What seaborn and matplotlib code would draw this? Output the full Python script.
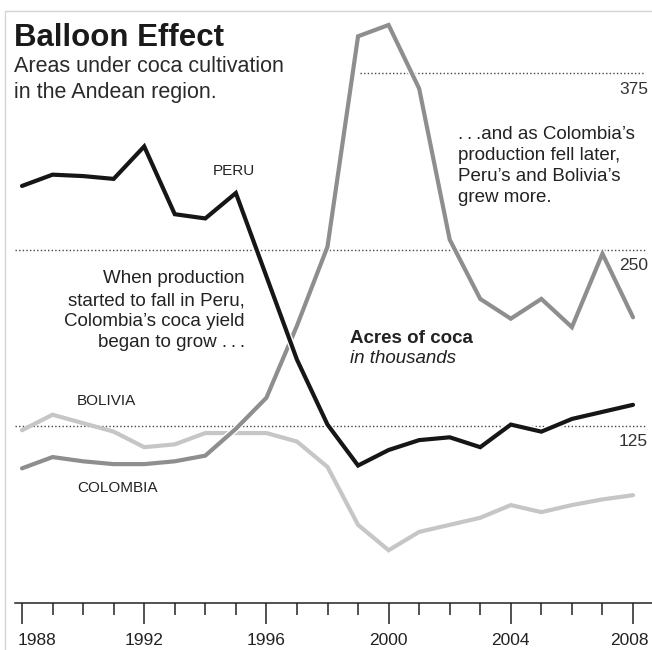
import numpy as np
import pandas as pd
import matplotlib
matplotlib.use("Agg")
import matplotlib.pyplot as plt
import matplotlib.patheffects as pe
import matplotlib.transforms as mtrans
from matplotlib.lines import Line2D
import seaborn as sns

# ---------------- data ----------------
years = list(range(1988, 2009))
peru = [295, 303, 302, 300, 323, 275, 272, 290, 231, 172, 126, 97, 108, 115, 117, 110, 126, 121, 130, 135, 140]
colombia = [95, 103, 100, 98, 98, 100, 104, 123, 145, 196, 252, 401, 409, 364, 257, 215, 201, 215, 195, 247, 202]
bolivia = [122, 133, 127, 121, 110, 112, 120, 120, 120, 114, 96, 55, 37, 50, 55, 60, 69, 64, 69, 73, 76]
countries = ["BOLIVIA", "COLOMBIA", "PERU"]
grid_values = [125, 250, 375]
major_ticks = [1988, 1992, 1996, 2000, 2004, 2008]

df = pd.DataFrame({
    "year": years * 3,
    "acres": bolivia + colombia + peru,
    "country": ["BOLIVIA"] * len(years) + ["COLOMBIA"] * len(years) + ["PERU"] * len(years),
})

# ---------------- style ----------------
sns.set_theme(style="white")
plt.rcParams["font.family"] = ["Liberation Sans", "DejaVu Sans"]

W, H = 652, 650
fig = plt.figure(figsize=(W / 100, H / 100), dpi=100)
ax = fig.add_axes([0, 0, 1, 1])

# pixel <-> data mapping (x: 1988 at 22px, 30.55 px/yr; y: 0 at 602.5px, 1.412 px/unit)
X0, XS = 22.0, 30.55
Y0, YS = 602.5, 1.412
ax.set_xlim(1988 - X0 / XS, 1988 + (W - X0) / XS)
ax.set_ylim(-(H - Y0) / YS, Y0 / YS)

def xd(px):
    return 1988 + (px - X0) / XS

def fx(px):
    return px / W

def fy(py):
    return 1 - py / H

palette = {"PERU": "#161616", "COLOMBIA": "#8e8e8e", "BOLIVIA": "#c6c6c6"}
sns.lineplot(data=df, x="year", y="acres", hue="country", hue_order=countries,
             palette=palette, linewidth=3.0, legend=False, ax=ax)

zorders = {"BOLIVIA": 3, "COLOMBIA": 4, "PERU": 5}
for line, name in zip(ax.get_lines(), countries):
    line.set_zorder(zorders[name])
    line.set_solid_joinstyle("miter")
    if name != "BOLIVIA":
        line.set_path_effects([pe.Stroke(linewidth=5.0, foreground="white"), pe.Normal()])

# dotted gridlines
grid_start = [xd(15), xd(15), xd(360)]
for v, xs in zip(grid_values, grid_start):
    ax.hlines(v, xs, xd(645), colors="#444444", linewidth=1.0,
              linestyles=(0, (1, 1.6)), zorder=1)
    py = Y0 - v * YS
    fig.text(fx(648), fy(py + 20.5), str(v), ha="right", va="baseline",
             fontsize=12.5, color="#333333")

# axis
ax.set_xlabel("")
ax.set_ylabel("")
for s in ["top", "right", "left"]:
    ax.spines[s].set_visible(False)
ax.spines["bottom"].set_position(("data", 0))
ax.spines["bottom"].set_bounds(xd(15), xd(W))
ax.spines["bottom"].set_linewidth(1.1)
ax.spines["bottom"].set_color("#222222")
ax.set_yticks([])
ax.set_xticks(major_ticks)
ax.set_xticks(years, minor=True)
ax.set_xticklabels([str(t) for t in major_ticks])
ax.tick_params(axis="x", which="major", direction="out", length=15, width=1.1,
               color="#222222", pad=7, labelsize=12.5, labelcolor="#222222", bottom=True)
ax.tick_params(axis="x", which="minor", direction="out", length=8.5, width=1.1,
               color="#222222", bottom=True)
lbls = ax.get_xticklabels()
lbls[0].set_ha("left")
lbls[0].set_transform(lbls[0].get_transform() + mtrans.ScaledTranslation(-4 / 100, 0, fig.dpi_scale_trans))
lbls[-1].set_transform(lbls[-1].get_transform() + mtrans.ScaledTranslation(-4 / 100, 0, fig.dpi_scale_trans))

# frame
fig.add_artist(Line2D([fx(5), fx(5)], [fy(11), fy(H + 5)], color="#d4d4d4", linewidth=1.0))
fig.add_artist(Line2D([fx(5), fx(W + 5)], [fy(11), fy(11)], color="#d4d4d4", linewidth=1.0))

# titles
fig.text(fx(14), fy(46), "Balloon Effect", fontsize=22.5, fontweight="bold",
         color="#1a1a1a", ha="left", va="baseline")
fig.text(fx(14), fy(72), "Areas under coca cultivation", fontsize=15.5,
         color="#2a2a2a", ha="left", va="baseline")
fig.text(fx(14), fy(98), "in the Andean region.", fontsize=15.5,
         color="#2a2a2a", ha="left", va="baseline")

# series labels
fig.text(fx(213), fy(175), "PERU", fontsize=11, color="#222222", va="baseline")
fig.text(fx(77), fy(405), "BOLIVIA", fontsize=11, color="#222222", va="baseline")
fig.text(fx(77), fy(492), "COLOMBIA", fontsize=11, color="#222222", va="baseline")

# annotations
dots = ".\u2009.\u2009."
left_note = ["When production", "started to fall in Peru,", "Colombia\u2019s coca yield",
             "began to grow " + dots]
for t, b in zip(left_note, [283, 305, 326, 347]):
    fig.text(fx(245), fy(b), t, fontsize=13.5, color="#222222", ha="right", va="baseline")

right_note = [dots + "and as Colombia\u2019s", "production fell later,",
              "Peru\u2019s and Bolivia\u2019s", "grew more."]
for t, b in zip(right_note, [139, 160, 181, 202]):
    fig.text(fx(458), fy(b), t, fontsize=13.5, color="#222222", ha="left", va="baseline")

fig.text(fx(350), fy(343), "Acres of coca", fontsize=13.5, fontweight="bold",
         color="#222222", ha="left", va="baseline")
fig.text(fx(350), fy(363), "in thousands", fontsize=13.5, fontstyle="italic",
         color="#222222", ha="left", va="baseline")

fig.savefig("out.png", dpi=100, facecolor="white")
